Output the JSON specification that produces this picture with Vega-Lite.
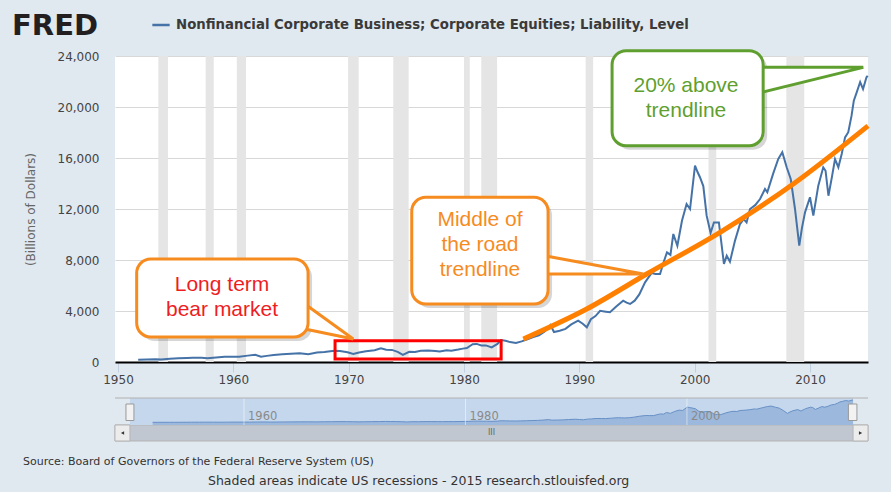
{
  "$schema": "https://vega.github.io/schema/vega-lite/v6.json",
  "background": "#e1e9f0",
  "padding": {"left": 12, "right": 23, "top": 12, "bottom": 5},
  "spacing": 36,
  "bounds": "flush",
  "config": {
    "font": "DejaVu Sans",
    "view": {"stroke": null},
    "axis": {
      "labelFont": "DejaVu Sans",
      "labelFontSize": 12,
      "labelColor": "#444444",
      "titleFont": "DejaVu Sans",
      "titleFontSize": 12,
      "titleFontWeight": "normal",
      "titleColor": "#666666"
    },
    "title": {"font": "DejaVu Sans"}
  },
  "title": {
    "text": "Shaded areas indicate US recessions - 2015 research.stlouisfed.org",
    "orient": "bottom",
    "anchor": "start",
    "frame": "group",
    "dx": 93,
    "offset": 8,
    "fontSize": 12.5,
    "fontWeight": "normal",
    "color": "#333333"
  },
  "resolve": {"scale": {"x": "independent", "y": "independent"}},
  "datasets": {
    "series": [
      {"year": 1951.75, "value": 180}, {"year": 1952.5, "value": 200}, {"year": 1953.25, "value": 215},
      {"year": 1953.75, "value": 200}, {"year": 1954.5, "value": 250}, {"year": 1955.25, "value": 290},
      {"year": 1956.0, "value": 320}, {"year": 1956.5, "value": 335}, {"year": 1957.25, "value": 330},
      {"year": 1957.75, "value": 290}, {"year": 1958.5, "value": 350}, {"year": 1959.25, "value": 410},
      {"year": 1959.75, "value": 420}, {"year": 1960.5, "value": 420}, {"year": 1961.25, "value": 500},
      {"year": 1961.9, "value": 560}, {"year": 1962.4, "value": 420}, {"year": 1962.9, "value": 480},
      {"year": 1963.5, "value": 540}, {"year": 1964.25, "value": 600}, {"year": 1965.0, "value": 640},
      {"year": 1965.75, "value": 690}, {"year": 1966.5, "value": 610}, {"year": 1967.25, "value": 740},
      {"year": 1967.9, "value": 790}, {"year": 1968.75, "value": 890}, {"year": 1969.25, "value": 860},
      {"year": 1969.9, "value": 760}, {"year": 1970.4, "value": 630}, {"year": 1970.9, "value": 740},
      {"year": 1971.5, "value": 850}, {"year": 1972.25, "value": 920}, {"year": 1972.8, "value": 1070},
      {"year": 1973.25, "value": 960}, {"year": 1973.75, "value": 950}, {"year": 1974.25, "value": 800},
      {"year": 1974.7, "value": 560}, {"year": 1975.25, "value": 800}, {"year": 1975.75, "value": 780},
      {"year": 1976.25, "value": 880}, {"year": 1976.9, "value": 900}, {"year": 1977.5, "value": 860},
      {"year": 1977.9, "value": 830}, {"year": 1978.5, "value": 920}, {"year": 1978.9, "value": 890},
      {"year": 1979.5, "value": 980}, {"year": 1979.9, "value": 1050}, {"year": 1980.25, "value": 1100},
      {"year": 1980.75, "value": 1400}, {"year": 1981.1, "value": 1420}, {"year": 1981.5, "value": 1300},
      {"year": 1981.9, "value": 1300}, {"year": 1982.4, "value": 1150}, {"year": 1982.9, "value": 1420},
      {"year": 1983.2, "value": 1720}, {"year": 1983.6, "value": 1660}, {"year": 1984.0, "value": 1560},
      {"year": 1984.5, "value": 1500}, {"year": 1985.0, "value": 1620}, {"year": 1985.5, "value": 1780},
      {"year": 1986.0, "value": 1950}, {"year": 1986.5, "value": 2100}, {"year": 1987.0, "value": 2400},
      {"year": 1987.5, "value": 2900}, {"year": 1987.8, "value": 2350}, {"year": 1988.3, "value": 2450},
      {"year": 1988.8, "value": 2600}, {"year": 1989.3, "value": 2950}, {"year": 1989.9, "value": 3240},
      {"year": 1990.3, "value": 3000}, {"year": 1990.65, "value": 2720}, {"year": 1991.0, "value": 3350},
      {"year": 1991.4, "value": 3600}, {"year": 1991.8, "value": 4020}, {"year": 1992.3, "value": 3950},
      {"year": 1992.66, "value": 3900}, {"year": 1993.2, "value": 4350}, {"year": 1993.8, "value": 4810},
      {"year": 1994.1, "value": 4650}, {"year": 1994.4, "value": 4550}, {"year": 1994.8, "value": 4810},
      {"year": 1995.2, "value": 5300}, {"year": 1995.7, "value": 6250}, {"year": 1996.27, "value": 6980},
      {"year": 1996.6, "value": 6900}, {"year": 1997.0, "value": 6900}, {"year": 1997.3, "value": 7800},
      {"year": 1997.6, "value": 8600}, {"year": 1997.9, "value": 8400}, {"year": 1998.15, "value": 10040},
      {"year": 1998.5, "value": 9120}, {"year": 1998.9, "value": 11080}, {"year": 1999.3, "value": 12390},
      {"year": 1999.6, "value": 12000}, {"year": 2000.03, "value": 15400}, {"year": 2000.25, "value": 14900},
      {"year": 2000.46, "value": 14490}, {"year": 2000.75, "value": 13800}, {"year": 2001.04, "value": 11480},
      {"year": 2001.38, "value": 10120}, {"year": 2001.67, "value": 10950}, {"year": 2002.1, "value": 10950},
      {"year": 2002.54, "value": 7690}, {"year": 2002.78, "value": 8340}, {"year": 2003.06, "value": 7870},
      {"year": 2003.5, "value": 9520}, {"year": 2003.93, "value": 10820}, {"year": 2004.25, "value": 11200},
      {"year": 2004.5, "value": 10950}, {"year": 2004.8, "value": 12000}, {"year": 2005.25, "value": 12300},
      {"year": 2005.67, "value": 12780}, {"year": 2006.1, "value": 13570}, {"year": 2006.3, "value": 13310},
      {"year": 2006.8, "value": 14750}, {"year": 2007.25, "value": 15920}, {"year": 2007.6, "value": 16450},
      {"year": 2007.98, "value": 15270}, {"year": 2008.33, "value": 14350}, {"year": 2008.7, "value": 12000},
      {"year": 2009.07, "value": 9120}, {"year": 2009.3, "value": 10500}, {"year": 2009.57, "value": 11740},
      {"year": 2010.0, "value": 12920}, {"year": 2010.29, "value": 11480}, {"year": 2010.72, "value": 13830},
      {"year": 2011.15, "value": 15270}, {"year": 2011.35, "value": 15000}, {"year": 2011.6, "value": 13040},
      {"year": 2011.9, "value": 14500}, {"year": 2012.17, "value": 15920}, {"year": 2012.46, "value": 15270},
      {"year": 2012.75, "value": 16310}, {"year": 2013.04, "value": 17620}, {"year": 2013.32, "value": 18020},
      {"year": 2013.6, "value": 19300}, {"year": 2013.8, "value": 20500}, {"year": 2014.05, "value": 21150},
      {"year": 2014.35, "value": 21960}, {"year": 2014.6, "value": 21410}, {"year": 2014.9, "value": 22330},
      {"year": 2015.0, "value": 22450}
    ],
    "recessions": [
      {"start": 1953.5, "end": 1954.33}, {"start": 1957.6, "end": 1958.3},
      {"start": 1960.3, "end": 1961.1}, {"start": 1969.95, "end": 1970.87},
      {"start": 1973.87, "end": 1975.2}, {"start": 1980.0, "end": 1980.5},
      {"start": 1981.5, "end": 1982.87}, {"start": 1990.55, "end": 1991.2},
      {"start": 2001.2, "end": 2001.87}, {"start": 2007.95, "end": 2009.5}
    ],
    "trend": [
      {"year": 1985.15, "value": 1804}, {"year": 1990.64, "value": 4157},
      {"year": 1995.84, "value": 6902}, {"year": 2002.2, "value": 10170},
      {"year": 2008.55, "value": 13961}, {"year": 2015.03, "value": 18520}
    ],
    "callouts": [
      {"id": "bear", "x": 1951.62, "x2": 1966.48, "y": 8078, "y2": 1961},
      {"id": "middle", "x": 1975.47, "x2": 1987.29, "y": 12918, "y2": 4549},
      {"id": "above", "x": 1992.84, "x2": 2005.94, "y": 24416, "y2": 16965}
    ],
    "tails": [
      {"id": "bear", "x": 1966.2, "y": 4549, "y2": 2588},
      {"id": "bear", "x": 1970.4, "y": 1804, "y2": 1804},
      {"id": "middle", "x": 1987.1, "y": 8314, "y2": 6902},
      {"id": "middle", "x": 1995.55, "y": 6902, "y2": 6902},
      {"id": "above", "x": 2005.8, "y": 23110, "y2": 21150},
      {"id": "above", "x": 2014.62, "y": 23110, "y2": 23110}
    ],
    "labels": [
      {"id": "bear", "x": 1959.02, "y": 5569, "text": "Long term\nbear market"},
      {"id": "middle", "x": 1981.39, "y": 10643, "text": "Middle of\nthe road\ntrendline"},
      {"id": "above", "x": 1999.25, "y": 21153, "text": "20% above\ntrendline"}
    ],
    "highlight": [
      {"x": 1968.82, "x2": 1983.22, "y": 1671, "y2": 235}
    ]
  },
  "vconcat": [
    {
      "width": 753,
      "height": 306,
      "view": {"fill": "#ffffff", "stroke": null},
      "title": {
        "text": "FRED",
        "anchor": "start",
        "frame": "group",
        "dx": -103,
        "offset": 8,
        "fontSize": 29,
        "fontWeight": "bold",
        "color": "#231f20"
      },
      "layer": [
        {
          "data": {"name": "recessions"},
          "mark": {"type": "rect", "fill": "#e5e5e5"},
          "encoding": {
            "x": {
              "field": "start",
              "type": "quantitative",
              "scale": {"domain": [1949.74, 2015.03], "nice": false, "zero": false},
              "axis": {
                "title": null,
                "values": [1950, 1960, 1970, 1980, 1990, 2000, 2010],
                "format": "d",
                "grid": false,
                "domainColor": "#000000",
                "domainWidth": 2,
                "tickColor": "#c0d0e0",
                "tickSize": 10,
                "labelPadding": 2,
                "labelFlush": false
              }
            },
            "x2": {"field": "end"}
          }
        },
        {
          "data": {"name": "series"},
          "mark": {"type": "line", "strokeWidth": 2},
          "encoding": {
            "x": {"field": "year", "type": "quantitative"},
            "y": {
              "field": "value",
              "type": "quantitative",
              "scale": {"domain": [0, 24000], "nice": false},
              "axis": {
                "title": "(Billions of Dollars)",
                "values": [0, 4000, 8000, 12000, 16000, 20000, 24000],
                "format": ",d",
                "grid": true,
                "gridColor": "#d8d8d8",
                "domain": false,
                "ticks": false,
                "labelPadding": 16,
                "titlePadding": 20
              }
            },
            "color": {
              "datum": "Nonfinancial Corporate Business; Corporate Equities; Liability, Level",
              "type": "nominal",
              "scale": {"range": ["#4572a7"]},
              "legend": {
                "title": null,
                "orient": "none",
                "legendX": 36,
                "legendY": -41,
                "labelFont": "DejaVu Sans",
                "labelFontSize": 13.3,
                "labelFontWeight": "bold",
                "labelColor": "#3a3a3a",
                "labelLimit": 700,
                "labelOffset": 5,
                "symbolType": "stroke",
                "symbolSize": 300,
                "symbolStrokeWidth": 2.5
              }
            }
          }
        },
        {
          "data": {"name": "trend"},
          "mark": {"type": "line", "color": "#ff8000", "strokeWidth": 5, "interpolate": "monotone"},
          "encoding": {
            "x": {"field": "year", "type": "quantitative"},
            "y": {"field": "value", "type": "quantitative"}
          }
        },
        {
          "data": {"name": "highlight"},
          "mark": {"type": "rect", "fillOpacity": 0, "stroke": "#ff0000", "strokeWidth": 3},
          "encoding": {
            "x": {"field": "x", "type": "quantitative"},
            "x2": {"field": "x2"},
            "y": {"field": "y", "type": "quantitative"},
            "y2": {"field": "y2"}
          }
        },
        {
          "data": {"name": "callouts"},
          "mark": {"type": "rect", "fill": "#000000", "opacity": 0.16, "cornerRadius": 14, "xOffset": 4, "x2Offset": 4, "yOffset": 4, "y2Offset": 4},
          "encoding": {
            "x": {"field": "x", "type": "quantitative"},
            "x2": {"field": "x2"},
            "y": {"field": "y", "type": "quantitative"},
            "y2": {"field": "y2"}
          }
        },
        {
          "data": {"name": "tails"},
          "mark": {"type": "area", "fill": "#ffffff", "strokeWidth": 3, "strokeJoin": "miter"},
          "encoding": {
            "x": {"field": "x", "type": "quantitative"},
            "y": {"field": "y", "type": "quantitative"},
            "y2": {"field": "y2"},
            "detail": {"field": "id", "type": "nominal"},
            "stroke": {
              "field": "id",
              "type": "nominal",
              "scale": {"domain": ["bear", "middle", "above"], "range": ["#f68b1f", "#f68b1f", "#5f9f2f"]},
              "legend": null
            }
          }
        },
        {
          "data": {"name": "callouts"},
          "mark": {"type": "rect", "fill": "#ffffff", "strokeWidth": 3, "cornerRadius": 14},
          "encoding": {
            "x": {"field": "x", "type": "quantitative"},
            "x2": {"field": "x2"},
            "y": {"field": "y", "type": "quantitative"},
            "y2": {"field": "y2"},
            "stroke": {"field": "id", "type": "nominal", "legend": null}
          }
        },
        {
          "data": {"name": "labels"},
          "mark": {"type": "text", "font": "Liberation Sans", "fontSize": 21, "lineHeight": 25, "lineBreak": "\n", "align": "center", "baseline": "alphabetic"},
          "encoding": {
            "x": {"field": "x", "type": "quantitative"},
            "y": {"field": "y", "type": "quantitative"},
            "text": {"field": "text"},
            "fill": {
              "field": "id",
              "type": "nominal",
              "scale": {"domain": ["bear", "middle", "above"], "range": ["#ee1d24", "#f68b1f", "#5f9f2f"]},
              "legend": null
            }
          }
        }
      ]
    },
    {
      "width": 753,
      "height": 43,
      "view": {"stroke": null},
      "title": {
        "text": "Source: Board of Governors of the Federal Reserve System (US)",
        "orient": "bottom",
        "anchor": "start",
        "frame": "group",
        "dx": -92,
        "offset": 14,
        "fontSize": 11,
        "fontWeight": "normal",
        "color": "#333333"
      },
      "layer": [
        {
          "data": {"values": [{}]},
          "mark": {"type": "rect", "fill": "#c0c7d0", "stroke": "#b3b3b3", "strokeWidth": 1},
          "encoding": {
            "x": {"datum": 1948.35, "type": "quantitative", "scale": {"domain": [1948.35, 2016.35], "nice": false, "zero": false}, "axis": null},
            "x2": {"datum": 2016.35},
            "y": {"datum": -2500, "type": "quantitative", "scale": {"domain": [-18500, 24500], "nice": false, "zero": false}, "axis": null},
            "y2": {"datum": -18500}
          }
        },
        {
          "data": {"values": [{}]},
          "mark": {"type": "rect", "fill": "#c4d7ed"},
          "encoding": {
            "x": {"datum": 1949.7, "type": "quantitative"},
            "x2": {"datum": 2015.0},
            "y": {"datum": 24500, "type": "quantitative"},
            "y2": {"datum": -2500}
          }
        },
        {
          "data": {"name": "series"},
          "mark": {"type": "area", "fill": "#8cacd6", "line": {"color": "#6890c6", "strokeWidth": 1}},
          "encoding": {
            "x": {"field": "year", "type": "quantitative"},
            "y": {"field": "value", "type": "quantitative"},
            "y2": {"datum": -2500}
          }
        },
        {
          "data": {"values": [{"year": 1960}, {"year": 1980}, {"year": 2000}]},
          "mark": {"type": "rule", "color": "#ffffff", "opacity": 0.5},
          "encoding": {
            "x": {"field": "year", "type": "quantitative"},
            "y": {"datum": 24500, "type": "quantitative"},
            "y2": {"datum": -2500}
          }
        },
        {
          "data": {"values": [{"year": 1960}, {"year": 1980}, {"year": 2000}]},
          "mark": {"type": "text", "align": "left", "baseline": "middle", "dx": 4, "fontSize": 11.5, "color": "#8a8a8a"},
          "encoding": {
            "x": {"field": "year", "type": "quantitative"},
            "y": {"datum": 6000, "type": "quantitative"},
            "text": {"field": "year", "type": "quantitative", "format": "d"}
          }
        },
        {
          "data": {"values": [{}]},
          "mark": {"type": "rule", "color": "#b0b0b0"},
          "encoding": {
            "y": {"datum": 24500, "type": "quantitative"}
          }
        },
        {
          "data": {"values": [{}]},
          "mark": {"type": "rect", "fill": "#f2f2f2", "stroke": "#999999", "strokeWidth": 1},
          "encoding": {
            "x": {"datum": 1949.34, "type": "quantitative"},
            "x2": {"datum": 1950.06},
            "y": {"datum": 18500, "type": "quantitative"},
            "y2": {"datum": 2000}
          }
        },
        {
          "data": {"values": [{}]},
          "mark": {"type": "rect", "fill": "#f2f2f2", "stroke": "#999999", "strokeWidth": 1},
          "encoding": {
            "x": {"datum": 2014.58, "type": "quantitative"},
            "x2": {"datum": 2015.35},
            "y": {"datum": 18500, "type": "quantitative"},
            "y2": {"datum": 2000}
          }
        },
        {
          "data": {"values": [{}]},
          "mark": {"type": "rect", "fill": "#ececec", "stroke": "#b5b5b5", "strokeWidth": 1},
          "encoding": {
            "x": {"datum": 1948.35, "type": "quantitative"},
            "x2": {"datum": 1949.7},
            "y": {"datum": -2500, "type": "quantitative"},
            "y2": {"datum": -18500}
          }
        },
        {
          "data": {"values": [{}]},
          "mark": {"type": "rect", "fill": "#ececec", "stroke": "#b5b5b5", "strokeWidth": 1},
          "encoding": {
            "x": {"datum": 2015.0, "type": "quantitative"},
            "x2": {"datum": 2016.35},
            "y": {"datum": -2500, "type": "quantitative"},
            "y2": {"datum": -18500}
          }
        },
        {
          "data": {"values": [{}]},
          "mark": {"type": "point", "shape": "triangle-left", "filled": true, "size": 14, "color": "#333333", "opacity": 1},
          "encoding": {
            "x": {"datum": 1949.03, "type": "quantitative"},
            "y": {"datum": -10500, "type": "quantitative"}
          }
        },
        {
          "data": {"values": [{}]},
          "mark": {"type": "point", "shape": "triangle-right", "filled": true, "size": 14, "color": "#333333", "opacity": 1},
          "encoding": {
            "x": {"datum": 2015.68, "type": "quantitative"},
            "y": {"datum": -10500, "type": "quantitative"}
          }
        },
        {
          "data": {"values": [{}]},
          "mark": {"type": "text", "text": "III", "fontSize": 8, "color": "#666666", "baseline": "middle"},
          "encoding": {
            "x": {"datum": 1982.35, "type": "quantitative"},
            "y": {"datum": -10500, "type": "quantitative"}
          }
        }
      ]
    }
  ]
}
